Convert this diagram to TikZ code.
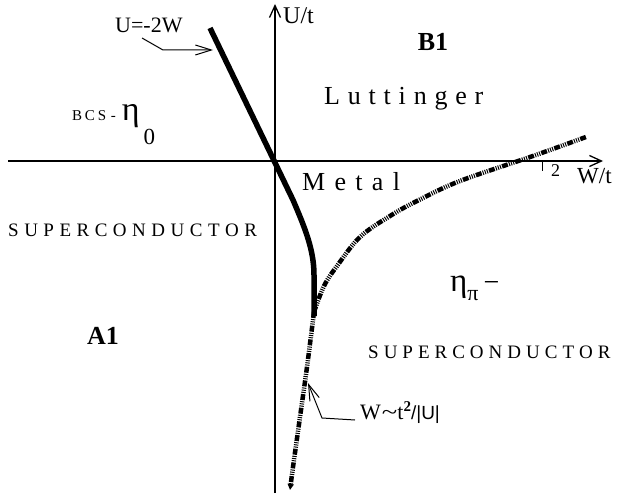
\documentclass[tikz,border=0pt]{standalone}
\usepackage{fontspec}
\setmainfont{Liberation Serif}
\setsansfont{Liberation Sans}
\usepackage{graphicx}
\usetikzlibrary{arrows.meta}
\newcommand\fsz[1]{\fontsize{#1}{#1}\selectfont}
\def\lspamt{0pt}
\newcommand\lsp[2]{\def\lspamt{#1}\lspA#2\relax}
\def\lspA#1{\ifx\relax#1\else#1\kern\lspamt\expandafter\lspA\fi}
\begin{document}
\begin{tikzpicture}[x=1pt,y=-1pt,
  axis/.style={line width=1.3pt,-{Straight Barb[length=12pt,width=11pt,line width=1.3pt]}},
  phase/.style={line width=5.5pt,line join=round},
  dashdot/.style={line width=4.5pt,dash pattern=on 6pt off 1.2pt on 1pt off 1.2pt on 1pt off 1.2pt on 1pt off 1.2pt},
  pointer/.style={line width=1pt,-{Straight Barb[length=16pt,width=10pt,line width=1pt]}},
  lbl/.style={inner sep=0pt,anchor=base west}]
\useasboundingbox (0,0) rectangle (618,497);
% axes
\coordinate (wstart) at (8,161);
\coordinate (wend) at (603,161);
\coordinate (ustart) at (275,493);
\coordinate (uend) at (275,4);
\draw[axis] (wstart) -- (wend);
\draw[axis] (ustart) -- (uend);
\coordinate (tick) at (542,161);
\draw[line width=1pt] (tick) -- ++(0,10);
% thick boundary U=-2W
\coordinate (ltop) at (210,28);
\coordinate (lbot) at (314,316);
\draw[phase] (ltop) -- (293,200) .. controls (305,228) and (314,250) .. (314,275) -- (lbot);
% dash-dot boundaries
\draw[dashdot] plot[smooth,tension=0.6] coordinates {(314,312) (324,286) (337,266) (360,237) (390,216) (417,201) (460,181) (533,156) (586,137)};
\draw[dashdot,-{Triangle[length=6pt,width=6pt]}] plot[smooth] coordinates {(314,312) (307,367) (300,417) (293,467) (290,490)};
% axis labels
\node[lbl] (ulab) at (283,24) {\fsz{24}U/t};
\node[lbl] (wlab) at (577,183) {\fsz{23}W/t};
\node[lbl] (two) at (551,177) {\fsz{18}2};
% region labels
\node[inner sep=0pt,font=\fsz{26}\bfseries] (b1) at (433,42) {B1};
\node[inner sep=0pt,font=\fsz{26}\bfseries] (a1) at (103,336) {A1};
\node[lbl] (lutt) at (324,105) {\fsz{26}\lsp{7.8pt}{Luttinger}};
\node[lbl] (metal) at (302,190) {\fsz{26}\lsp{9.3pt}{Metal}};
\node[lbl] (bcs) at (72,121) {\fsz{15}\lsp{2.8pt}{BCS}\kern2pt-\kern6pt{\fsz{34}η}\kern4pt\raisebox{-24pt}{\fsz{23}0}};
\node[lbl] (scl) at (8,236) {\fsz{19}\lsp{5.5pt}{SUPERCONDUCTOR}};
\node[lbl] (eta) at (450,291) {\fsz{33}η\raisebox{-9pt}{\fsz{22}π}\kern5pt{\fsz{28}−}};
\node[lbl] (scr) at (368,358) {\fsz{19}\lsp{5pt}{SUPERCONDUCTOR}};
% pointer labels
\node[lbl] (ulabel) at (115,33) {\fsz{22}U=-2W};
\coordinate (ustartp) at (142,38);
\coordinate (ubend) at (163,50);
\coordinate (utip) at (213,50);
\draw[pointer] (ustartp) -- (ubend) -- (utip);
\node[lbl] (wlabel) at (360,419) {\fsz{22}W\kern1pt\scalebox{1.3}[1]{\textasciitilde}t\raisebox{8pt}{\fsz{15}\bfseries 2}{\sffamily\fsz{19}/|U|}};
\coordinate (wbend) at (322,418);
\coordinate (wtip) at (308,383);
\draw[pointer] ([xshift=-5pt,yshift=-1pt]wlabel.base west) -- (wbend) -- (wtip);
\end{tikzpicture}
\end{document}
